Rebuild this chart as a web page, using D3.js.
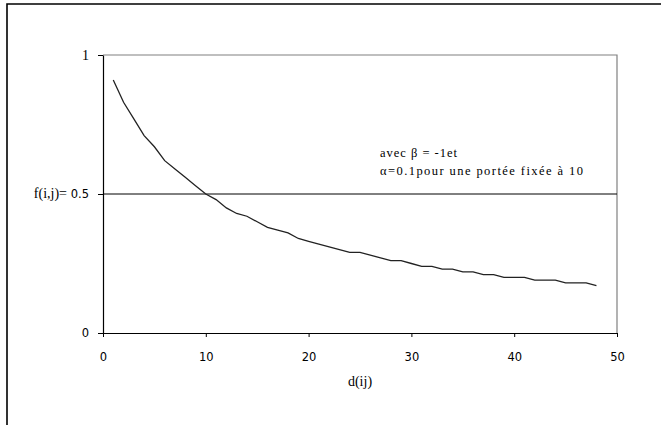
<!DOCTYPE html>
<html><head><meta charset="utf-8">
<script src="https://cdn.jsdelivr.net/npm/d3@7"></script>
<style>body{margin:0;background:#fff}svg{display:block}</style>
</head><body>
<svg id="c" width="661" height="425"></svg>
<script>
const distances = d3.range(1, 49);
const values = [0.91,0.83,0.77,0.71,0.67,0.62,0.59,0.56,0.53,0.50,
  0.48,0.45,0.43,0.42,0.40,0.38,0.37,0.36,0.34,0.33,
  0.32,0.31,0.30,0.29,0.29,0.28,0.27,0.26,0.26,0.25,
  0.24,0.24,0.23,0.23,0.22,0.22,0.21,0.21,0.20,0.20,
  0.20,0.19,0.19,0.19,0.18,0.18,0.18,0.17];
const xTicks = [0,10,20,30,40,50];
const yTicks = [0,0.5,1];
const refLine = 0.5;
const annotation = ["avec \u03b2 = -1et", "\u03b1=0.1pour une portée fixée à 10"];

const svg = d3.select("#c");
const L = 103, R = 617, T = 55, B = 333;
const x = d3.scaleLinear().domain([0,50]).range([L,R]);
const y = d3.scaleLinear().domain([0,1]).range([B,T]);

// outer border
svg.append("path").attr("d","M7,425V4H661").attr("fill","none").attr("stroke","#000").attr("stroke-width",1.6);

// plot frame top/right gray
svg.append("path").attr("d",`M${L},${T}H${R}V${B}`).attr("fill","none").attr("stroke","#808080").attr("stroke-width",1.2);

// reference line
svg.append("line").attr("x1",L).attr("x2",R).attr("y1",y(refLine)).attr("y2",y(refLine)).attr("stroke","#000").attr("stroke-width",1);

// axes
const xa = svg.append("g").attr("transform",`translate(0,${B})`)
  .call(d3.axisBottom(x).tickValues(xTicks).tickSize(4).tickSizeOuter(0).tickPadding(16));
xa.select(".domain").attr("stroke","#000").attr("stroke-width",1.2);
xa.selectAll("text").attr("font-family","DejaVu Sans").attr("font-size",11.5).attr("fill","#000");

const ya = svg.append("g").attr("transform",`translate(${L},0)`)
  .call(d3.axisLeft(y).tickValues(yTicks).tickSize(5).tickSizeOuter(0).tickPadding(9).tickFormat(d=>d===0.5?"0.5":d3.format("d")(d)));
ya.select(".domain").attr("stroke","#000").attr("stroke-width",1.2);
ya.selectAll("text").attr("font-family",d=>d===1?"Liberation Serif":"DejaVu Sans").attr("font-size",d=>d===1?14:11.5).attr("fill","#000");

// y label
svg.append("text").attr("x", 67).attr("y", y(0.5)+4).attr("text-anchor","end")
  .attr("font-family","Liberation Serif").attr("font-size",14).text("f(i,j)=");

// x label
svg.append("text").attr("x",(L+R)/2).attr("y",386).attr("text-anchor","middle")
  .attr("font-family","Liberation Serif").attr("font-size",14).text("d(ij)");

// curve
const line = d3.line().x((d,i)=>x(distances[i])).y(d=>y(d));
svg.append("path").datum(values).attr("d",line).attr("fill","none").attr("stroke","#222").attr("stroke-width",1.3);

// annotation
const widths = [77, 203];
annotation.forEach((t,i)=>{
  svg.append("text").attr("x",380).attr("y",157+i*18)
    .attr("font-family","Liberation Serif").attr("font-size",12.5)
    .attr("textLength",widths[i]).attr("lengthAdjust","spacing").text(t);
});
</script>
</body></html>
